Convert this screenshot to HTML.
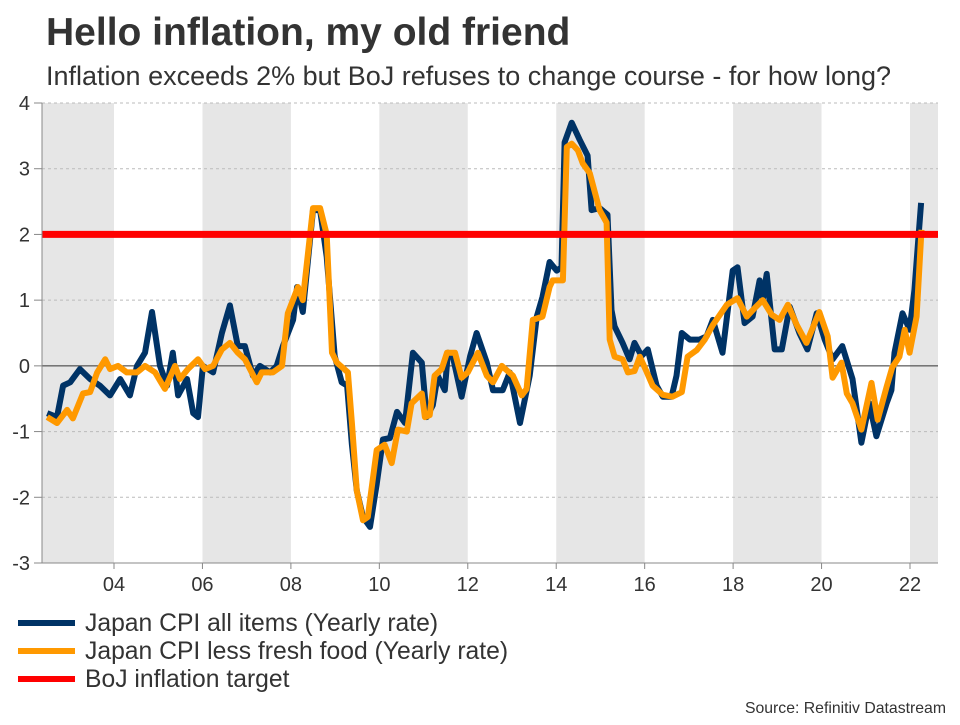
<!DOCTYPE html>
<html><head><meta charset="utf-8"><style>
body{margin:0;background:#fff;font-family:"Liberation Sans",Arial,sans-serif;}
svg text{font-family:"Liberation Sans",Arial,sans-serif;}
</style></head><body>
<svg id="chart" width="960" height="720" viewBox="0 0 960 720" xmlns="http://www.w3.org/2000/svg">
<text x="46" y="45" font-size="39" font-weight="bold" fill="#333">Hello inflation, my old friend</text>
<text x="46" y="85" font-size="27" fill="#333">Inflation exceeds 2% but BoJ refuses to change course - for how long?</text>
<g id="bands"></g><g id="grid"></g><g id="series"></g><g id="axes"></g>
<g>
<line x1="18" y1="623" x2="75" y2="623" stroke="#003366" stroke-width="6"/>
<text x="85" y="631" font-size="24.7" fill="#333">Japan CPI all items (Yearly rate)</text>
<line x1="18" y1="651" x2="75" y2="651" stroke="#ff9900" stroke-width="6"/>
<text x="85" y="659" font-size="24.7" fill="#333">Japan CPI less fresh food (Yearly rate)</text>
<line x1="18" y1="679" x2="75" y2="679" stroke="#ff0000" stroke-width="6"/>
<text x="85" y="687" font-size="24.7" fill="#333">BoJ inflation target</text>
</g>
<text x="946" y="713" font-size="15.8" fill="#333" text-anchor="end">Source: Refinitiv Datastream</text>
</svg>
<script>
const yTicks=[-3,-2,-1,0,1,2,3,4];
const xTickYears=[2004,2006,2008,2010,2012,2014,2016,2018,2020,2022];
const xTickLabels=["04","06","08","10","12","14","16","18","20","22"];
const bandStarts=[2002.37,2006,2010,2014,2018,2022];
const bandEnds=[2004,2008,2012,2016,2020,2022.68];
const targetValue=2;
const allDates=[2002.49,2002.71,2002.85,2003.01,2003.23,2003.46,2003.68,2003.91,2004.14,2004.36,
2004.52,2004.70,2004.86,2005.04,2005.20,2005.33,2005.45,2005.65,2005.79,2005.90,
2006.01,2006.24,2006.44,2006.62,2006.80,2006.96,2007.14,2007.30,2007.53,2007.68,
2007.82,2008.05,2008.14,2008.27,2008.50,2008.66,2008.81,2008.99,2009.15,2009.27,
2009.38,2009.49,2009.63,2009.79,2009.94,2010.08,2010.24,2010.40,2010.58,2010.76,
2010.96,2011.07,2011.21,2011.32,2011.48,2011.55,2011.66,2011.86,2012.05,2012.20,
2012.43,2012.57,2012.79,2012.95,2013.18,2013.40,2013.56,2013.69,2013.85,2014.01,
2014.12,2014.19,2014.35,2014.53,2014.71,2014.80,2014.98,2015.16,2015.25,2015.32,2015.50,
2015.66,2015.77,2015.93,2016.07,2016.27,2016.41,2016.61,2016.72,2016.84,2017.02,
2017.24,2017.40,2017.54,2017.76,2017.99,2018.10,2018.26,2018.44,2018.60,2018.67,
2018.76,2018.94,2019.10,2019.28,2019.50,2019.68,2019.89,2020.07,2020.25,2020.47,
2020.70,2020.90,2021.08,2021.24,2021.47,2021.58,2021.65,2021.83,2021.99,2022.10,2022.25];
const allValues=[-0.72,-0.78,-0.3,-0.25,-0.05,-0.2,-0.3,-0.45,-0.2,-0.45,
0,0.2,0.82,0,-0.3,0.2,-0.45,-0.2,-0.72,-0.78,
0,-0.1,0.5,0.92,0.3,0.3,-0.15,0,-0.1,0,
0.3,0.7,1.2,0.82,2.37,2.37,1.66,0.15,-0.25,-0.3,
-1.2,-1.9,-2.3,-2.45,-1.8,-1.12,-1.1,-0.7,-0.87,0.2,
0.05,-0.78,-0.6,-0.15,-0.37,0.2,0.15,-0.47,0.14,0.5,
0.05,-0.37,-0.37,-0.1,-0.87,-0.15,0.75,1.05,1.58,1.45,
1.5,3.4,3.7,3.44,3.2,2.37,2.4,2.3,0.85,0.6,0.35,
0.1,0.35,0.15,0.25,-0.3,-0.47,-0.47,-0.15,0.5,0.4,
0.4,0.45,0.7,0.2,1.45,1.5,0.65,0.75,1.3,1.0,
1.4,0.25,0.25,0.9,0.5,0.25,0.8,0.4,0.1,0.3,
-0.2,-1.17,-0.57,-1.07,-0.57,-0.37,0.2,0.8,0.55,1.15,2.48];
const coreDates=[2002.49,2002.71,2002.94,2003.07,2003.30,2003.46,2003.62,2003.80,2003.91,2004.09,
2004.29,2004.52,2004.70,2004.93,2005.15,2005.38,2005.49,2005.67,2005.90,2006.06,
2006.24,2006.44,2006.62,2006.80,2006.96,2007.23,2007.34,2007.59,2007.80,2007.93,
2008.16,2008.27,2008.50,2008.66,2008.81,2008.93,2009.04,2009.29,2009.38,2009.49,
2009.63,2009.74,2009.94,2010.12,2010.28,2010.42,2010.62,2010.73,2010.96,2011.03,
2011.14,2011.25,2011.41,2011.53,2011.71,2011.86,2012.00,2012.23,2012.43,2012.57,
2012.77,2013.02,2013.22,2013.33,2013.47,2013.69,2013.85,2013.92,2014.15,2014.24,
2014.35,2014.49,2014.60,2014.76,2014.98,2015.14,2015.21,2015.32,2015.50,2015.62,
2015.77,2015.89,2016.05,2016.18,2016.41,2016.63,2016.84,2016.97,2017.18,2017.36,
2017.54,2017.86,2018.10,2018.31,2018.49,2018.67,2018.87,2019.05,2019.24,2019.44,
2019.66,2019.95,2020.14,2020.25,2020.45,2020.57,2020.70,2020.90,2021.13,2021.27,
2021.47,2021.60,2021.76,2021.88,2021.99,2022.15,2022.26];
const coreValues=[-0.78,-0.87,-0.67,-0.8,-0.42,-0.4,-0.1,0.1,-0.05,0,
-0.1,-0.1,0,-0.1,-0.35,0,-0.2,-0.05,0.1,-0.05,
0,0.25,0.35,0.2,0.1,-0.25,-0.1,-0.1,0,0.8,
1.2,1.0,2.4,2.4,2.0,0.2,0.05,-0.1,-0.87,-1.9,
-2.35,-2.3,-1.28,-1.2,-1.48,-0.97,-1.0,-0.57,-0.42,-0.78,
-0.75,-0.15,-0.05,0.2,0.2,-0.18,-0.1,0.2,-0.15,-0.25,
0,-0.15,-0.45,-0.35,0.7,0.75,1.2,1.3,1.3,3.33,
3.38,3.28,3.08,2.93,2.37,2.18,0.4,0.14,0.1,-0.1,
-0.08,0.14,-0.1,-0.3,-0.44,-0.47,-0.4,0.14,0.24,0.4,
0.62,0.93,1.03,0.75,0.88,1.0,0.78,0.7,0.93,0.62,
0.35,0.82,0.45,-0.18,0.05,-0.42,-0.57,-0.97,-0.26,-0.82,
-0.32,-0.02,0.14,0.55,0.2,0.75,2.07];

const NS="http://www.w3.org/2000/svg";
const L=42,R=938,T=103,B=563;
const yMin=-3,yMax=4;
function xs(t){return 114+(t-2004)*(910-114)/18;}
function ys(v){return B-(v-yMin)/(yMax-yMin)*(B-T);}
function mk(tag,attrs,parent){const e=document.createElementNS(NS,tag);for(const k in attrs)e.setAttribute(k,attrs[k]);parent.appendChild(e);return e;}
const bands=document.getElementById('bands'),grid=document.getElementById('grid'),series=document.getElementById('series'),axes=document.getElementById('axes');
for(let i=0;i<bandStarts.length;i++){
  const r=mk('rect',{x:xs(bandStarts[i]),y:T,width:Math.min(R,xs(bandEnds[i]))-xs(bandStarts[i]),height:B-T,fill:'#e6e6e6'},bands);
  
  
}
yTicks.forEach(v=>{
  if(v!==0&&v!==yMin){const g=mk('line',{x1:L,x2:R,y1:ys(v),y2:ys(v),stroke:'#bbb','stroke-width':1,'stroke-dasharray':'3,3'},grid);
  
  }
  const t=mk('text',{x:30,y:ys(v)+7,'font-size':20,fill:'#333','text-anchor':'end'},axes);t.textContent=v;
  
  
  const tk=mk('line',{x1:34,x2:L,y1:ys(v),y2:ys(v),stroke:'#888','stroke-width':1},axes);
  
  
});
const z=mk('line',{x1:L,x2:R,y1:ys(0),y2:ys(0),stroke:'#333','stroke-width':1},grid);


const ya=mk('line',{x1:L,x2:L,y1:T,y2:B,stroke:'#888','stroke-width':1},axes);


const xa=mk('line',{x1:L,x2:R,y1:B,y2:B,stroke:'#888','stroke-width':1},axes);


xTickYears.forEach((yr,i)=>{
  const t=mk('text',{x:xs(yr),y:591,'font-size':20,fill:'#333','text-anchor':'middle'},axes);t.textContent=xTickLabels[i];
  
  
  const tk=mk('line',{x1:xs(yr),x2:xs(yr),y1:B,y2:B+6,stroke:'#888','stroke-width':1},axes);
  
  
});
function path(d,v){return d.map((t,i)=>(i?'L':'M')+xs(t).toFixed(1)+','+ys(v[i]).toFixed(1)).join('');}
const p1=mk('path',{d:path(allDates,allValues),fill:'none',stroke:'#003366','stroke-width':6,'stroke-linejoin':'round'},series);


const p2=mk('path',{d:path(coreDates,coreValues),fill:'none',stroke:'#ff9900','stroke-width':6,'stroke-linejoin':'round'},series);


const tl=mk('line',{x1:L,x2:R,y1:ys(targetValue),y2:ys(targetValue),stroke:'#ff0000','stroke-width':7},series);


</script>
</body></html>
